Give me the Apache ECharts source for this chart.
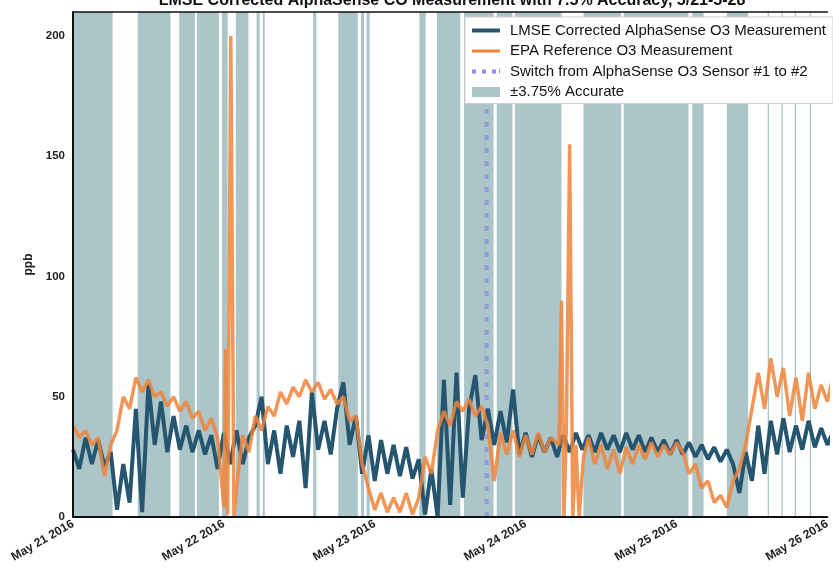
<!DOCTYPE html>
<html><head><meta charset="utf-8">
<script src="https://cdn.jsdelivr.net/npm/echarts@6/dist/echarts.min.js"></script>
<style>html,body{margin:0;padding:0;background:#fff;}#c{width:833px;height:572px;}</style>
</head><body><div id="c"></div>
<script>
const titleText = 'LMSE Corrected AlphaSense CO Measurement with 7.5% Accuracy, 5/21-5-28';
const tickLabels = ['May 21 2016','May 22 2016','May 23 2016','May 24 2016','May 25 2016','May 26 2016'];
const yTicks = [0, 50, 100, 150, 200];
const seriesNames = ['LMSE Corrected AlphaSense O3 Measurement','EPA Reference O3 Measurement','Switch from AlphaSense O3 Sensor #1 to #2','\u00b13.75% Accurate'];
// one value per hour from May 21 2016 00:00
const lmseValues = [28,20,33,22,32,21,27,3,22,6,
45,2,55,30,48,27,42,28,38,27,
36,26,34,20,35,22,36,22,33,38,
50,22,36,18,38,25,40,12,52,28,
40,26,45,56,30,42,18,34,15,32,
18,30,17,29,16,24,1,20,0,57,
5,60,8,45,59,32,45,30,44,31,
53,26,35,25,34,27,33,25,34,27,
35,28,34,27,35,28,34,27,35,28,
34,27,33,27,32,26,32,26,31,25,
30,24,29,23,28,22,10,27,15,38,
18,40,26,41,27,38,28,40,29,37,
30,36,31,35,30,34,31];
const epaValues = [38,33,36,30,33,17,30,36,50,45,
58,52,57,50,52,46,50,44,48,41,
44,36,41,33,null,null,12,34,27,42,
36,46,42,52,47,54,50,57,52,56,
49,53,47,50,40,42,22,12,3,10,
2,8,2,10,1,8,25,18,36,44,
38,48,44,49,42,46,38,15,35,26,
36,25,34,26,35,27,33,null,null,null,
null,null,33,22,30,20,28,18,29,22,
30,24,31,25,30,26,31,27,18,22,
12,15,6,9,4,15,20,30,45,60,
45,66,50,62,42,58,40,60,45,55,
48,60,50,58,49,57,50];
const epaSpikeHours = [24.0,24.3,24.6,25.1,25.6,77.3,77.7,78.1,78.5,79.0,79.5,80.0,80.5,81.2];
const epaSpikeValues = [4,70,1,200,0,30,90,0,40,155,0,30,0,25];
const switchHour = 65.8;
const accurateStart = [0,10.3,16.9,19.7,23.7,25.9,29.2,30.2,38.2,42.2,45.8,46.7,55.1,57.9,62.2,67.4,70.3,81.2,87.6,98.5,104.0,110.5,112.7,114.8,117.2];
const accurateEnd   = [6.3,15.5,19.4,23.2,24.6,27.9,29.7,30.5,38.7,45.3,46.3,47.2,56.1,61.6,66.9,69.9,77.7,87.2,97.9,100.3,107.4,110.7,112.9,115.0,117.4];

const X_MAX = 120, Y_MAX = 210;
const blue = '#26566f', orange = '#f0843a', band = '#abc5c9', lav = '#8c8ce0';

const lmseData = lmseValues.map((v, i) => [i, v]);
let epaData = [];
epaValues.forEach((v, i) => { if (v !== null) epaData.push([i, v]); });
epaSpikeHours.forEach((h, i) => epaData.push([h, epaSpikeValues[i]]));
epaData.sort((a, b) => a[0] - b[0]);
const bandData = accurateStart.map((s, i) => [s, accurateEnd[i]]);

const chart = echarts.init(document.getElementById('c'), null, {renderer: 'canvas'});
const font = 'Liberation Sans, Arial, Helvetica, sans-serif';
chart.setOption({
  animation: false,
  backgroundColor: '#fff',
  textStyle: {fontFamily: font},
  title: {text: titleText, left: 447, textAlign: 'center', top: -12,
    textStyle: {fontFamily: font, fontSize: 16, fontWeight: 'bold', color: '#111'}},
  grid: {left: 73, top: 12, right: 0, height: 505},
  legend: {
    orient: 'vertical', left: 465, top: 17,
    backgroundColor: '#fff', borderColor: '#cfcfcf', borderWidth: 1,
    padding: [6, 7, 4, 7], itemWidth: 28, itemHeight: 10, itemGap: 5.5,
    textStyle: {fontFamily: font, fontSize: 15, color: '#111', lineHeight: 14, padding: [0, 0, 0, 5]},
    data: [
      {name: seriesNames[0], icon: 'path://M0,0H28V4H0Z', itemStyle: {color: blue}},
      {name: seriesNames[1], icon: 'path://M0,0H28V3H0Z', itemStyle: {color: orange}},
      {name: seriesNames[2], icon: 'path://M0,0H4V4H0Z M10,0H14V4H10Z M20,0H24V4H20Z M27,0H28V4H27Z', itemStyle: {color: lav}},
      {name: seriesNames[3], icon: 'rect', itemStyle: {color: band}}
    ]
  },
  xAxis: [{
    type: 'value', min: 0, max: X_MAX, interval: 24, z: 10,
    axisLine: {show: true, onZero: false, lineStyle: {color: '#111', width: 2}},
    axisTick: {show: false}, splitLine: {show: false},
    axisLabel: {rotate: 30, margin: 6, fontSize: 12, fontWeight: 'bold', color: '#222', fontFamily: font,
      formatter: v => (v % 24 === 0 && tickLabels[v / 24]) ? tickLabels[v / 24] : ''}
  }, {
    type: 'value', position: 'top', min: 0, max: X_MAX, z: 10,
    axisLine: {show: true, onZero: false, lineStyle: {color: '#111', width: 1.5}},
    axisTick: {show: false}, axisLabel: {show: false}, splitLine: {show: false}
  }],
  yAxis: {
    type: 'value', min: 0, max: Y_MAX, interval: 50, z: 10,
    name: 'ppb', nameLocation: 'middle', nameGap: 30, nameRotate: 90,
    nameTextStyle: {fontSize: 12, fontWeight: 'bold', color: '#222', fontFamily: font},
    axisLine: {show: true, lineStyle: {color: '#111', width: 2}},
    axisTick: {show: false}, splitLine: {show: false},
    axisLabel: {margin: 8, fontSize: 11.5, fontWeight: 'bold', color: '#222', fontFamily: font,
      formatter: v => yTicks.indexOf(v) >= 0 ? String(v) : ''}
  },
  series: [
    {
      name: seriesNames[3], type: 'custom', clip: true, z: 1,
      itemStyle: {color: band},
      encode: {x: [0, 1]},
      data: bandData,
      renderItem: function (params, api) {
        const a = api.coord([api.value(0), Y_MAX]);
        const b = api.coord([api.value(1), 0]);
        return {type: 'rect', shape: {x: a[0], y: a[1], width: Math.max(b[0] - a[0], 1), height: b[1] - a[1]},
          style: {fill: band}};
      }
    },
    {
      name: seriesNames[2], type: 'line', symbol: 'none', z: 2,
      data: [[switchHour, 0], [switchHour, Y_MAX]],
      itemStyle: {color: lav},
      lineStyle: {color: lav, width: 4, type: [5, 8], opacity: 0.8}
    },
    {
      name: seriesNames[0], type: 'line', symbol: 'none', z: 3,
      data: lmseData, itemStyle: {color: blue},
      lineStyle: {color: blue, width: 4}
    },
    {
      name: seriesNames[1], type: 'line', symbol: 'none', z: 4,
      data: epaData, itemStyle: {color: orange},
      lineStyle: {color: orange, width: 3.5, opacity: 0.85}
    }
  ]
});
</script></body></html>
